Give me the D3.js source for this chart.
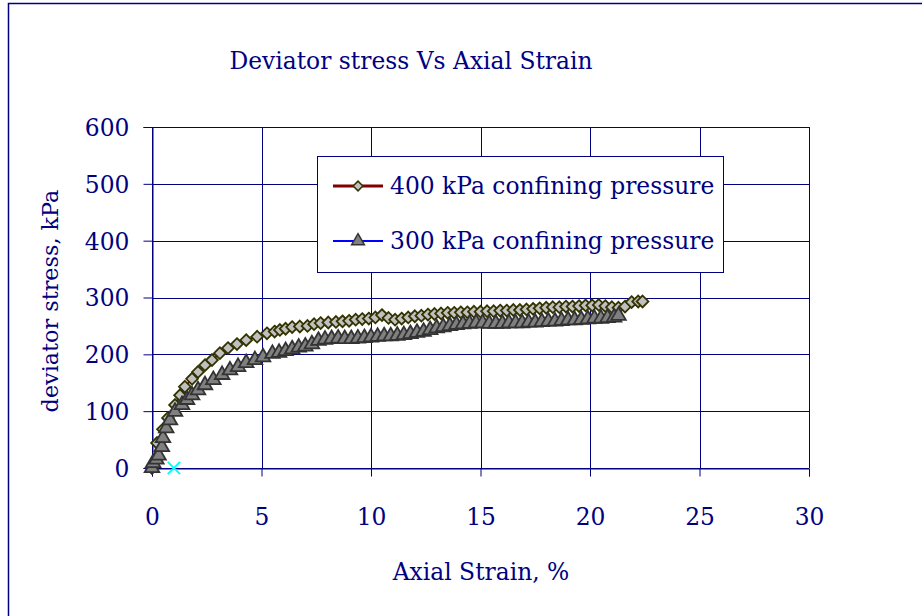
<!DOCTYPE html>
<html>
<head>
  <meta charset="utf-8">
  <title>Deviator stress Vs Axial Strain</title>
  <style>
    html, body { margin: 0; padding: 0; background: #fff; overflow: hidden; }
    text { font-family: "DejaVu Serif", "Liberation Serif", serif; fill: #000080; }
  </style>
</head>
<body>
  <div id="chart"></div>
  <script src="https://d3js.org/d3.v7.min.js"></script>
  <script>
    // Axis ticks
    const xTicks = [0, 5, 10, 15, 20, 25, 30];
    const yTicks = [0, 100, 200, 300, 400, 500, 600];

    // 400 kPa confining pressure: axial strain (%) and deviator stress (kPa)
    const strain400 = [0, 0.23, 0.5, 0.73, 1.05, 1.28, 1.5, 1.83, 2.1, 2.42, 2.74, 3.1, 3.47, 3.88, 4.3, 4.8,
      5.25, 5.6, 5.84, 6.1, 6.4, 6.75, 7.1, 7.4, 7.7, 8.05, 8.4, 8.7, 9.0, 9.3, 9.6, 9.9, 10.2, 10.5, 10.8,
      11.1, 11.4, 11.7, 12.0, 12.3, 12.6, 12.9, 13.2, 13.5, 13.8, 14.1, 14.4, 14.7, 15.0, 15.3, 15.6, 15.9,
      16.2, 16.5, 16.8, 17.1, 17.4, 17.7, 18.0, 18.3, 18.6, 18.9, 19.2, 19.5, 19.8, 20.1, 20.4, 20.7, 21.0,
      21.3, 21.6, 21.9, 22.2, 22.4];
    const stress400 = [0, 44, 68, 88, 111, 128, 143, 157, 169, 181, 190, 202, 211, 218, 225, 231,
      237, 240, 243, 245, 248, 249, 250, 253, 255, 256, 257, 258, 259, 261, 262, 263, 265, 269, 264,
      261, 263, 265, 267, 268, 270, 271, 272, 273, 273, 274, 274, 275, 275, 276, 276, 277,
      277, 278, 278, 279, 280, 281, 282, 283, 283, 284, 284, 285, 286, 286, 287, 285, 283,
      282, 284, 292, 293, 293];

    // 300 kPa confining pressure
    const strain300 = [0, 0.05, 0.2, 0.3, 0.45, 0.5, 0.65, 0.82, 1.05, 1.37, 1.6, 1.83, 2.1, 2.42, 2.8, 3.2,
      3.56, 3.93, 4.3, 4.7, 5.07, 5.5, 5.8, 6.1, 6.4, 6.7, 7.0, 7.3, 7.6, 7.9, 8.2, 8.5, 8.8, 9.1, 9.4, 9.7,
      10.0, 10.3, 10.6, 10.9, 11.2, 11.5, 11.8, 12.1, 12.4, 12.7, 13.0, 13.3, 13.6, 13.9, 14.2, 14.5, 14.8,
      15.1, 15.4, 15.7, 16.0, 16.3, 16.6, 16.9, 17.2, 17.5, 17.8, 18.1, 18.4, 18.7, 19.0, 19.3, 19.6, 19.9,
      20.2, 20.5, 20.8, 21.1, 21.3];
    const stress300 = [0, 9, 15, 22, 37, 53, 70, 84, 99, 111, 120, 128, 137, 146, 155, 164,
      172, 178, 185, 190, 195, 201, 203, 206, 209, 212, 214, 218, 224, 226, 227, 228, 227, 227, 228, 229,
      230, 231, 232, 232, 233, 234, 236, 238, 240, 243, 246, 248, 250, 252, 253, 254, 255,
      255, 254, 254, 254, 255, 255, 255, 256, 256, 257, 258, 258, 259, 260, 260, 261, 262,
      263, 263, 264, 265, 268];

    // stray single point (cyan cross)
    const extraStrain = [1];
    const extraStress = [0];

    const W = 922, H = 616;
    const plot = {left: 152, right: 809, top: 127, bottom: 468};
    const navy = "#000080";
    const fontSize = "23.4px";

    const svg = d3.select("#chart").append("svg")
      .attr("width", W).attr("height", H);

    svg.append("rect").attr("width", W).attr("height", H).attr("fill", "#fff");
    // outer chart frame
    svg.append("rect")
      .attr("x", 8.5).attr("y", 3.5).attr("width", W + 20).attr("height", H + 20)
      .attr("fill", "none").attr("stroke", navy).attr("stroke-width", 1.5);

    const x = d3.scaleLinear().domain([0, 30]).range([plot.left, plot.right]);
    const y = d3.scaleLinear().domain([0, 600]).range([plot.bottom, plot.top]);

    // gridlines
    const grid = svg.append("g");
    grid.selectAll("line.h").data(yTicks).enter().append("line")
      .attr("x1", plot.left).attr("x2", plot.right)
      .attr("y1", d => Math.round(y(d)) + 0.5).attr("y2", d => Math.round(y(d)) + 0.5)
      .attr("stroke", navy).attr("stroke-width", 1);
    grid.selectAll("line.v").data(xTicks).enter().append("line")
      .attr("y1", plot.top).attr("y2", plot.bottom)
      .attr("x1", d => Math.round(x(d)) + 0.5).attr("x2", d => Math.round(x(d)) + 0.5)
      .attr("stroke", navy).attr("stroke-width", 1);

    // axes
    const xAxis = svg.append("g")
      .attr("transform", `translate(0,${plot.bottom + 0.5})`)
      .call(d3.axisBottom(x).tickValues(xTicks).tickSize(8).tickPadding(41));
    const yAxis = svg.append("g")
      .attr("transform", `translate(${plot.left + 0.5},0)`)
      .call(d3.axisLeft(y).tickValues(yTicks).tickSize(9).tickPadding(14));
    [xAxis, yAxis].forEach(a => {
      a.select(".domain").attr("stroke", navy);
      a.selectAll(".tick line").attr("stroke", navy);
      a.selectAll(".tick text")
        .attr("fill", navy)
        .style("font-family", '"DejaVu Serif", serif')
        .style("font-size", fontSize);
    });
    xAxis.selectAll(".tick text").attr("dy", "0.32em");
    yAxis.selectAll(".tick text").attr("dy", "0.36em");

    // titles
    svg.append("text").attr("x", 411).attr("y", 69).attr("text-anchor", "middle")
      .style("font-size", fontSize).text("Deviator stress Vs Axial Strain");
    svg.append("text").attr("x", 481).attr("y", 580).attr("text-anchor", "middle")
      .style("font-size", fontSize).text("Axial Strain, %");
    svg.append("text")
      .attr("transform", "translate(58,301) rotate(-90)")
      .attr("text-anchor", "middle")
      .style("font-size", "22.3px").text("deviator stress, kPa");

    const line = d3.line().x(d => x(d[0])).y(d => y(d[1]));
    const data400 = strain400.map((s, i) => [s, stress400[i]]);
    const data300 = strain300.map((s, i) => [s, stress300[i]]);

    const diamond = d3.symbol().type(d3.symbolDiamond2).size(88);
    const triangle = d3.symbol().type(d3.symbolTriangle).size(92);

    function drawSeries(data, color, sym, fill, stroke) {
      svg.append("path").datum(data)
        .attr("d", line).attr("fill", "none")
        .attr("stroke", color).attr("stroke-width", 2);
      svg.append("g").selectAll("path").data(data).enter().append("path")
        .attr("transform", d => `translate(${x(d[0])},${y(d[1])})`)
        .attr("d", sym)
        .attr("fill", fill).attr("stroke", stroke).attr("stroke-width", 1.8);
    }
    drawSeries(data400, "#800000", diamond, "#c0c0c0", "#333300");
    drawSeries(data300, "#0000ff", triangle, "#808080", "#333333");

    // cyan cross
    const cross = d3.symbol().type(d3.symbolX).size(100);
    svg.append("g").selectAll("path").data(extraStrain).enter().append("path")
      .attr("transform", (d, i) => `translate(${x(d)},${y(extraStress[i])})`)
      .attr("d", cross).attr("fill", "none").attr("stroke", "#00ffff").attr("stroke-width", 2);

    // legend
    const lg = svg.append("g");
    lg.append("rect").attr("x", 317.5).attr("y", 156.5).attr("width", 406).attr("height", 116)
      .attr("fill", "#fff").attr("stroke", navy).attr("stroke-width", 1);
    const legendDiamond = d3.symbol().type(d3.symbolDiamond2).size(60);
    const legendTriangle = d3.symbol().type(d3.symbolTriangle).size(70);
    const entries = [
      {label: "400 kPa confining pressure", color: "#800000", sym: legendDiamond, fill: "#c0c0c0", stroke: "#333300", cy: 186},
      {label: "300 kPa confining pressure", color: "#0000ff", sym: legendTriangle, fill: "#808080", stroke: "#333333", cy: 241}
    ];
    entries.forEach(e => {
      lg.append("line").attr("x1", 333).attr("x2", 383).attr("y1", e.cy).attr("y2", e.cy)
        .attr("stroke", e.color).attr("stroke-width", e.color === "#800000" ? 3 : 2);
      lg.append("path").attr("transform", `translate(358,${e.cy})`).attr("d", e.sym)
        .attr("fill", e.fill).attr("stroke", e.stroke).attr("stroke-width", 1.5);
      lg.append("text").attr("x", 390).attr("y", e.cy).attr("dy", "0.36em")
        .style("font-size", fontSize).text(e.label);
    });
  </script>
</body>
</html>
